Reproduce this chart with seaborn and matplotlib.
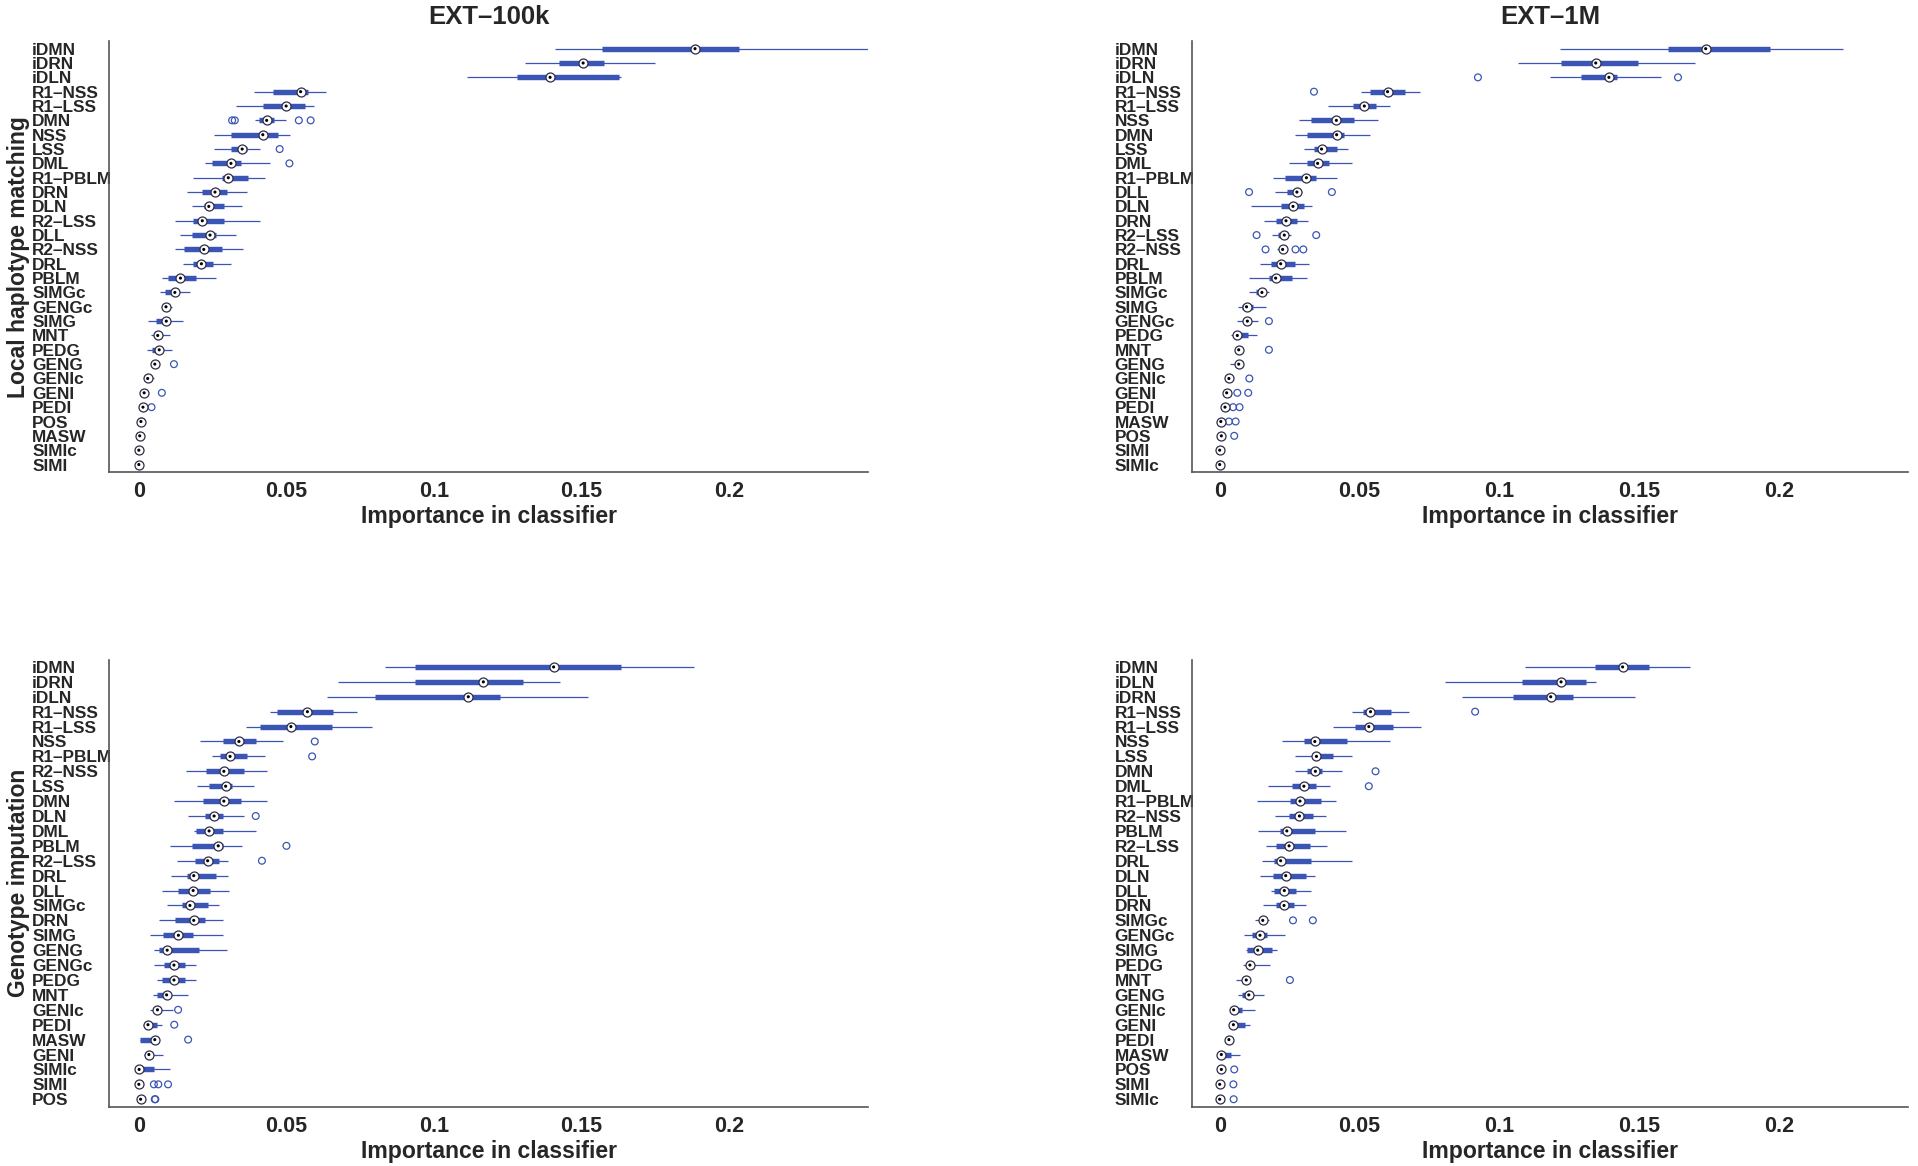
import numpy as np
import pandas as pd
import matplotlib
matplotlib.use("Agg")
import matplotlib.pyplot as plt
import seaborn as sns

# ---------------- data ----------------
# top left: local haplotype matching, EXT-100k
tl_labels = ["iDMN", "iDRN", "iDLN", "R1–NSS", "R1–LSS", "DMN", "NSS", "LSS", "DML", "R1–PBLM",
             "DRN", "DLN", "R2–LSS", "DLL", "R2–NSS", "DRL", "PBLM", "SIMGc", "GENGc", "SIMG",
             "MNT", "PEDG", "GENG", "GENIc", "GENI", "PEDI", "POS", "MASW", "SIMIc", "SIMI"]
tl_lo = [0.141, 0.1308, 0.1113, 0.039, 0.033, 0.0395, 0.0256, 0.0256, 0.0223, 0.0183,
         0.0164, 0.0181, 0.0124, 0.0141, 0.0121, 0.015, 0.0079, 0.0073, 0.0077, 0.003,
         0.004, 0.0026, 0.0048, 0.0022, 0.0012, 0.0008, 0.0004, 0.0001, 0.0, 0.0]
tl_q1 = [0.1569, 0.1423, 0.128, 0.0453, 0.0421, 0.0407, 0.0312, 0.0312, 0.0249, 0.0282,
         0.0215, 0.022, 0.0183, 0.0181, 0.0153, 0.0184, 0.0098, 0.009, 0.0086, 0.0059,
         0.0058, 0.0045, 0.0051, 0.0026, 0.0015, 0.0011, 0.0005, 0.0002, 0.0, 0.0]
tl_med = [0.1884, 0.1505, 0.1393, 0.0548, 0.0499, 0.0433, 0.042, 0.035, 0.0312, 0.0303,
          0.0258, 0.0237, 0.0215, 0.0241, 0.022, 0.0212, 0.0141, 0.0122, 0.0092, 0.0093,
          0.0064, 0.0069, 0.0054, 0.003, 0.0018, 0.0014, 0.0007, 0.0003, 0.0, 0.0]
tl_q3 = [0.2034, 0.1575, 0.1625, 0.0573, 0.0563, 0.0458, 0.0472, 0.0367, 0.0345, 0.0371,
         0.0299, 0.0288, 0.029, 0.026, 0.0282, 0.025, 0.0194, 0.013, 0.0098, 0.0094,
         0.0068, 0.0073, 0.0058, 0.0035, 0.0021, 0.0017, 0.0009, 0.0004, 0.0001, 0.0001]
tl_hi = [0.247, 0.1748, 0.1633, 0.0633, 0.0593, 0.0497, 0.0511, 0.041, 0.0443, 0.0429,
         0.0367, 0.035, 0.0412, 0.0328, 0.0354, 0.0313, 0.026, 0.0172, 0.0111, 0.0148,
         0.0107, 0.0111, 0.0062, 0.0051, 0.0024, 0.002, 0.0011, 0.0005, 0.0001, 0.0001]
tl_out_rows = ["DMN", "DMN", "DMN", "DMN", "LSS", "DML", "GENG", "GENI", "PEDI", "POS", "MASW"]
tl_out_vals = [0.0316, 0.0325, 0.0542, 0.0582, 0.0477, 0.051, 0.0119, 0.0078, 0.0043, 0.0009, 0.0005]

# top right: local haplotype matching, EXT-1M
tr_labels = ["iDMN", "iDRN", "iDLN", "R1–NSS", "R1–LSS", "NSS", "DMN", "LSS", "DML", "R1–PBLM",
             "DLL", "DLN", "DRN", "R2–LSS", "R2–NSS", "DRL", "PBLM", "SIMGc", "SIMG", "GENGc",
             "PEDG", "MNT", "GENG", "GENIc", "GENI", "PEDI", "MASW", "POS", "SIMI", "SIMIc"]
tr_lo = [0.1218, 0.1067, 0.1181, 0.0504, 0.0388, 0.0282, 0.027, 0.0301, 0.0246, 0.0192,
         0.0196, 0.0111, 0.0158, 0.0188, 0.0205, 0.0144, 0.0105, 0.0105, 0.0065, 0.0061,
         0.0039, 0.006, 0.0037, 0.0028, 0.002, 0.0015, 0.0002, 0.0003, 0.0, 0.0]
tr_q1 = [0.1602, 0.1219, 0.1293, 0.0539, 0.0476, 0.0327, 0.0313, 0.0337, 0.0313, 0.0232,
         0.0239, 0.022, 0.02, 0.021, 0.022, 0.0182, 0.0176, 0.0129, 0.0081, 0.0092,
         0.0051, 0.0064, 0.0062, 0.0031, 0.0023, 0.0017, 0.0003, 0.0005, 0.0, 0.0]
tr_med = [0.1737, 0.1344, 0.1391, 0.06, 0.0517, 0.0417, 0.0418, 0.0364, 0.035, 0.031,
          0.0276, 0.0262, 0.0237, 0.0231, 0.0225, 0.0218, 0.02, 0.0151, 0.0096, 0.0099,
          0.0063, 0.0068, 0.0068, 0.0033, 0.0025, 0.0019, 0.0004, 0.0006, 0.0, 0.0]
tr_q3 = [0.1967, 0.1494, 0.1419, 0.0662, 0.0557, 0.0481, 0.0446, 0.0418, 0.0392, 0.0346,
         0.0285, 0.0302, 0.0275, 0.0245, 0.023, 0.0271, 0.026, 0.0158, 0.012, 0.0111,
         0.0102, 0.0072, 0.0072, 0.0036, 0.0028, 0.0022, 0.0006, 0.0008, 0.0001, 0.0001]
tr_hi = [0.2228, 0.17, 0.1578, 0.0715, 0.0608, 0.0567, 0.0536, 0.046, 0.0474, 0.0418,
         0.0295, 0.0331, 0.0315, 0.0255, 0.0235, 0.0319, 0.0313, 0.0176, 0.0164, 0.0138,
         0.0135, 0.0075, 0.0075, 0.004, 0.003, 0.0025, 0.0008, 0.001, 0.0001, 0.0001]
tr_out_rows = ["iDLN", "iDLN", "R1–NSS", "DLL", "DLL", "R2–LSS", "R2–LSS", "R2–NSS", "R2–NSS",
               "R2–NSS", "GENGc", "MNT", "GENIc", "GENI", "GENI", "PEDI", "PEDI", "MASW",
               "MASW", "POS", "SIMI", "SIMIc"]
tr_out_vals = [0.0923, 0.1638, 0.0337, 0.0105, 0.0401, 0.0132, 0.0345, 0.0164, 0.0271,
               0.0299, 0.0176, 0.0176, 0.0106, 0.0063, 0.0102, 0.0048, 0.0071, 0.0033,
               0.0057, 0.0052, 0.0002, 0.0002]

# bottom left: genotype imputation, EXT-100k
bl_labels = ["iDMN", "iDRN", "iDLN", "R1–NSS", "R1–LSS", "NSS", "R1–PBLM", "R2–NSS", "LSS", "DMN",
             "DLN", "DML", "PBLM", "R2–LSS", "DRL", "DLL", "SIMGc", "DRN", "SIMG", "GENG",
             "GENGc", "PEDG", "MNT", "GENIc", "PEDI", "MASW", "GENI", "SIMIc", "SIMI", "POS"]
bl_lo = [0.0834, 0.0675, 0.0638, 0.0444, 0.0363, 0.0208, 0.0249, 0.016, 0.0196, 0.012,
         0.0167, 0.0188, 0.0107, 0.0129, 0.011, 0.0079, 0.0096, 0.007, 0.0037, 0.0053,
         0.0051, 0.0062, 0.0049, 0.0037, 0.0015, 0.0003, 0.0017, 0.0, 0.0, 0.0003]
bl_q1 = [0.0935, 0.0935, 0.08, 0.0469, 0.0411, 0.0285, 0.0274, 0.0227, 0.0238, 0.0217,
         0.0224, 0.0195, 0.0181, 0.0191, 0.0163, 0.0132, 0.0145, 0.0122, 0.0082, 0.007,
         0.0085, 0.0079, 0.0062, 0.0055, 0.0023, 0.0003, 0.0028, 0.0, 0.0, 0.0004]
bl_med = [0.1405, 0.1167, 0.1116, 0.0571, 0.0515, 0.0339, 0.0309, 0.0288, 0.0294, 0.0288,
          0.0255, 0.0238, 0.0269, 0.0233, 0.0186, 0.0184, 0.0173, 0.0186, 0.0134, 0.0096,
          0.0119, 0.0119, 0.0094, 0.0063, 0.0031, 0.0054, 0.0034, 0.0001, 0.0, 0.0006]
bl_q3 = [0.1632, 0.13, 0.1224, 0.0657, 0.0654, 0.0396, 0.0368, 0.0356, 0.0316, 0.0346,
         0.0285, 0.0285, 0.0285, 0.0271, 0.0263, 0.024, 0.0234, 0.0224, 0.0183, 0.0203,
         0.0155, 0.0155, 0.0107, 0.0068, 0.0062, 0.0056, 0.004, 0.0051, 0.0001, 0.0008]
bl_hi = [0.1879, 0.1427, 0.1522, 0.0739, 0.0791, 0.049, 0.0429, 0.0433, 0.0391, 0.0433,
         0.0356, 0.0398, 0.0349, 0.0302, 0.0302, 0.0305, 0.0271, 0.0286, 0.0284, 0.0297,
         0.0193, 0.0195, 0.0168, 0.0115, 0.0077, 0.0058, 0.0081, 0.0105, 0.0001, 0.001]
bl_out_rows = ["NSS", "R1–PBLM", "DLN", "PBLM", "R2–LSS", "GENIc", "PEDI", "MASW",
               "SIMI", "SIMI", "SIMI", "POS", "POS"]
bl_out_vals = [0.0596, 0.0587, 0.0396, 0.05, 0.0417, 0.0133, 0.012, 0.0167,
               0.0051, 0.0066, 0.0099, 0.0054, 0.0056]

# bottom right: genotype imputation, EXT-1M
br_labels = ["iDMN", "iDLN", "iDRN", "R1–NSS", "R1–LSS", "NSS", "LSS", "DMN", "DML", "R1–PBLM",
             "R2–NSS", "PBLM", "R2–LSS", "DRL", "DLN", "DLL", "DRN", "SIMGc", "GENGc", "SIMG",
             "PEDG", "MNT", "GENG", "GENIc", "GENI", "PEDI", "MASW", "POS", "SIMI", "SIMIc"]
br_lo = [0.1093, 0.0805, 0.0867, 0.0474, 0.0405, 0.0224, 0.0271, 0.0269, 0.0174, 0.0132,
         0.0198, 0.0137, 0.0164, 0.0152, 0.0144, 0.0182, 0.0156, 0.0125, 0.0087, 0.0093,
         0.0082, 0.0057, 0.0065, 0.0045, 0.0045, 0.0028, 0.0004, 0.0004, 0.0, 0.0]
br_q1 = [0.134, 0.1081, 0.1048, 0.0513, 0.0485, 0.0301, 0.0329, 0.0313, 0.0257, 0.025,
         0.0248, 0.0215, 0.02, 0.0194, 0.0189, 0.0194, 0.02, 0.0148, 0.0117, 0.0099,
         0.0098, 0.009, 0.0081, 0.0049, 0.0047, 0.003, 0.0006, 0.0005, 0.0, 0.0]
br_med = [0.144, 0.122, 0.1183, 0.0539, 0.0533, 0.034, 0.0346, 0.0342, 0.0301, 0.0287,
          0.0285, 0.024, 0.0248, 0.0218, 0.0236, 0.0231, 0.023, 0.0154, 0.0144, 0.0136,
          0.0108, 0.0095, 0.0104, 0.005, 0.0049, 0.0033, 0.0006, 0.0006, 0.0, 0.0]
br_q3 = [0.1536, 0.1311, 0.1263, 0.0613, 0.0618, 0.0455, 0.0405, 0.0364, 0.0344, 0.0361,
         0.0333, 0.0339, 0.0324, 0.0327, 0.0307, 0.0274, 0.0265, 0.016, 0.017, 0.0188,
         0.0118, 0.01, 0.0111, 0.0081, 0.0089, 0.0036, 0.0042, 0.0008, 0.0001, 0.0001]
br_hi = [0.1682, 0.1346, 0.1483, 0.0677, 0.0718, 0.0608, 0.0474, 0.0436, 0.0396, 0.0415,
         0.0381, 0.0452, 0.0385, 0.0474, 0.034, 0.0325, 0.031, 0.0175, 0.0232, 0.0204,
         0.0179, 0.0105, 0.016, 0.0125, 0.0108, 0.0038, 0.0073, 0.0009, 0.0001, 0.0001]
br_out_rows = ["R1–NSS", "DMN", "DML", "SIMGc", "SIMGc", "MNT", "POS", "SIMI", "SIMIc", "SIMIc"]
br_out_vals = [0.0913, 0.0557, 0.0533, 0.0262, 0.0333, 0.0251, 0.0052, 0.0049, 0.005, 0.0002]

x_ticks = [0, 0.05, 0.1, 0.15, 0.2]
x_ticklabels = ["0", "0.05", "0.1", "0.15", "0.2"]

# ---------------- style ----------------
sns.set_style("white")
plt.rcParams['font.family'] = ['Liberation Sans', 'DejaVu Sans']
plt.rcParams['font.weight'] = 'bold'

BLUE = "#3a55b4"
AXC = "#555555"


def draw_panel(ax, labels, lo, q1, med, q3, hi, out_rows, out_vals, xmax):
    df = pd.DataFrame({'label': labels, 'lo': lo, 'q1': q1, 'med': med, 'q3': q3, 'hi': hi})
    df['pos'] = np.arange(len(df))
    outs = pd.DataFrame({'label': out_rows, 'val': out_vals})
    outs['pos'] = outs['label'].map(dict(zip(df['label'], df['pos'])))

    # whiskers and boxes (compact style)
    ax.hlines(df['pos'], df['lo'], df['hi'], color=BLUE, lw=0.9, zorder=2)
    ax.hlines(df['pos'], df['q1'], df['q3'], color=BLUE, lw=3.9, zorder=3)
    # outliers
    sns.scatterplot(data=outs, x='val', y='pos', ax=ax, marker='o', s=24,
                    facecolor='none', edgecolor=BLUE, linewidth=0.9, zorder=4)
    # medians: white circle with a dot
    sns.scatterplot(data=df, x='med', y='pos', ax=ax, marker='o', s=42,
                    facecolor='white', edgecolor='#2d2d48', linewidth=0.9, zorder=5)
    sns.scatterplot(data=df, x='med', y='pos', ax=ax, marker='o', s=5,
                    facecolor='black', edgecolor='none', linewidth=0, zorder=6)

    ax.set_xlim(-0.01, xmax)
    ax.set_ylim(len(df) - 0.5, -0.5)
    ax.set_yticks(df['pos'])
    ax.set_yticklabels(labels, fontsize=12.4, fontweight='bold', ha='left')
    ax.tick_params(axis='y', length=0, pad=55.5)
    ax.set_xticks(x_ticks)
    ax.set_xticklabels(x_ticklabels, fontsize=15.5, fontweight='bold')
    ax.tick_params(axis='x', direction='in', length=5, width=1, color=AXC, pad=7)
    for s in ['top', 'right']:
        ax.spines[s].set_visible(False)
    for s in ['left', 'bottom']:
        ax.spines[s].set_color(AXC)
        ax.spines[s].set_linewidth(1.2)
    ax.set_xlabel("Importance in classifier", fontsize=16.6, fontweight='bold', labelpad=2)
    ax.set_ylabel("")


fig = plt.figure(figsize=(19.18, 11.66), dpi=100)
ax_tl = fig.add_axes([0.05699, 0.59546, 0.39557, 0.36895])
ax_tr = fig.add_axes([0.62132, 0.59546, 0.37346, 0.36895])
ax_bl = fig.add_axes([0.05699, 0.05086, 0.39557, 0.38353])
ax_br = fig.add_axes([0.62132, 0.05086, 0.37346, 0.38353])

draw_panel(ax_tl, tl_labels, tl_lo, tl_q1, tl_med, tl_q3, tl_hi, tl_out_rows, tl_out_vals, 0.247)
draw_panel(ax_tr, tr_labels, tr_lo, tr_q1, tr_med, tr_q3, tr_hi, tr_out_rows, tr_out_vals, 0.246)
draw_panel(ax_bl, bl_labels, bl_lo, bl_q1, bl_med, bl_q3, bl_hi, bl_out_rows, bl_out_vals, 0.247)
draw_panel(ax_br, br_labels, br_lo, br_q1, br_med, br_q3, br_hi, br_out_rows, br_out_vals, 0.246)

ax_tl.set_title("EXT–100k", fontsize=18.5, fontweight='bold', pad=12.5)
ax_tr.set_title("EXT–1M", fontsize=18.5, fontweight='bold', pad=12.5)

ax_tl.set_ylabel("Local haplotype matching", fontsize=16.5, fontweight='bold')
ax_tl.yaxis.set_label_coords(-0.105, 0.5)
ax_bl.set_ylabel("Genotype imputation", fontsize=16.5, fontweight='bold')
ax_bl.yaxis.set_label_coords(-0.105, 0.5)

fig.savefig("out.png", dpi=100)
